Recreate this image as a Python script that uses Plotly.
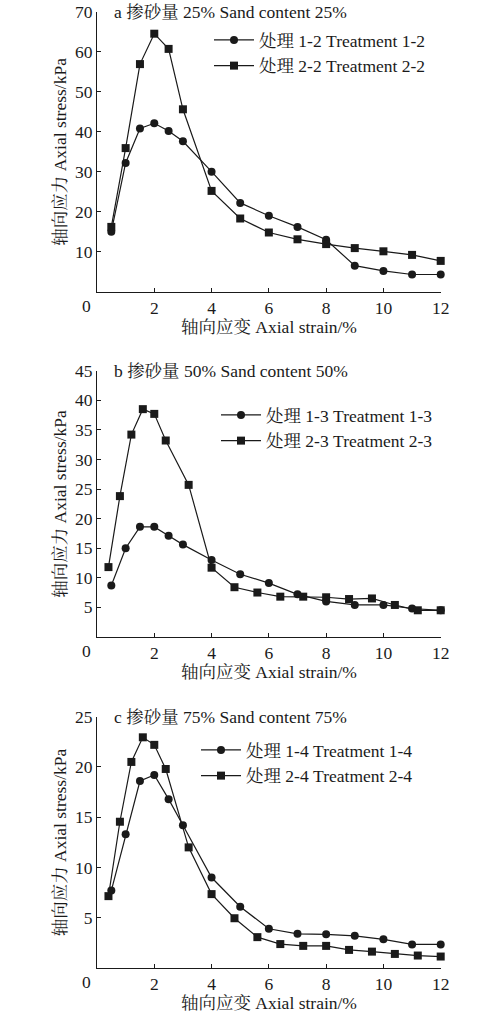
import plotly.graph_objects as go

# a: sand content 25%
strain_a = [0.5, 1, 1.5, 2, 2.5, 3, 4, 5, 6, 7, 8, 9, 10, 11, 12]
stress_a1 = [15.0, 32.2, 40.8, 42.1, 40.2, 37.6, 30.0, 22.2, 19.0, 16.2, 13.0, 6.5, 5.2, 4.3, 4.3]
stress_a2 = [16.2, 35.9, 56.9, 64.5, 60.7, 45.6, 25.2, 18.3, 14.8, 13.1, 11.9, 10.9, 10.1, 9.2, 7.7]

# b: sand content 50%
strain_b1 = [0.5, 1, 1.5, 2, 2.5, 3, 4, 5, 6, 7, 8, 9, 10, 11, 12]
stress_b1 = [8.7, 15.0, 18.6, 18.6, 17.1, 15.6, 13.0, 10.6, 9.1, 7.2, 6.0, 5.4, 5.4, 4.8, 4.5]
strain_b2 = [0.4, 0.8, 1.2, 1.6, 2.0, 2.4, 3.2, 4.0, 4.8, 5.6, 6.4, 7.2, 8.0, 8.8, 9.6, 10.4, 11.2, 12.0]
stress_b2 = [11.8, 23.8, 34.2, 38.5, 37.7, 33.2, 25.7, 11.7, 8.4, 7.5, 6.8, 6.8, 6.7, 6.4, 6.5, 5.4, 4.5, 4.5]

# c: sand content 75%
strain_c1 = [0.5, 1, 1.5, 2, 2.5, 3, 4, 5, 6, 7, 8, 9, 10, 11, 12]
stress_c1 = [7.7, 13.3, 18.6, 19.2, 16.8, 14.2, 9.0, 6.1, 3.9, 3.4, 3.35, 3.2, 2.85, 2.35, 2.35]
strain_c2 = [0.4, 0.8, 1.2, 1.6, 2.0, 2.4, 3.2, 4.0, 4.8, 5.6, 6.4, 7.2, 8.0, 8.8, 9.6, 10.4, 11.2, 12.0]
stress_c2 = [7.15, 14.55, 20.5, 22.95, 22.2, 19.8, 12.0, 7.35, 4.95, 3.07, 2.38, 2.2, 2.2, 1.8, 1.63, 1.4, 1.24, 1.14]

panel_titles = ["a 掺砂量 25% Sand content 25%",
                "b 掺砂量 50% Sand content 50%",
                "c 掺砂量 75% Sand content 75%"]
y_ranges = [70, 45, 25]
y_ticks = [[10, 20, 30, 40, 50, 60, 70],
           [5, 10, 15, 20, 25, 30, 35, 40, 45],
           [5, 10, 15, 20, 25]]
x_ticks = [2, 4, 6, 8, 10, 12]

FONT = "Liberation Serif, 'Noto Serif CJK SC', 'Noto Sans CJK SC', serif"
INK = "#1a1a1a"
FS = 17.5

# pixel layout of the 500x1014 page
W, H = 500, 1014
x_left, x_right = 97, 440.7
panel_px = [(11.7, 291.7), (370.7, 636.9), (716.7, 968.0)]  # top, bottom
legend_px = [(209, 22), (216, 397), (196, 732)]  # left, top
xtitle_gap = [35, 35, 35]  # axis line -> x title centre

series = [
    (strain_a, stress_a1, "处理 1-2 Treatment 1-2", strain_a, stress_a2, "处理 2-2 Treatment 2-2"),
    (strain_b1, stress_b1, "处理 1-3 Treatment 1-3", strain_b2, stress_b2, "处理 2-3 Treatment 2-3"),
    (strain_c1, stress_c1, "处理 1-4 Treatment 1-4", strain_c2, stress_c2, "处理 2-4 Treatment 2-4"),
]

fig = go.Figure()

for i, (x1, y1, n1, x2, y2, n2) in enumerate(series):
    k = "" if i == 0 else str(i + 1)
    leg = "legend" + k
    fig.add_trace(go.Scatter(
        x=x1, y=y1, name=n1, mode="lines+markers",
        line=dict(color=INK, width=1.2),
        marker=dict(symbol="circle", size=8, color=INK),
        cliponaxis=False, xaxis="x" + k, yaxis="y" + k, legend=leg
    ))
    fig.add_trace(go.Scatter(
        x=x2, y=y2, name=n2, mode="lines+markers",
        line=dict(color=INK, width=1.2),
        marker=dict(symbol="square", size=8, color=INK),
        cliponaxis=False, xaxis="x" + k, yaxis="y" + k, legend=leg
    ))

layout = dict(
    width=W, height=H,
    margin=dict(l=0, r=0, t=0, b=0, autoexpand=False),
    paper_bgcolor="white", plot_bgcolor="white",
    font=dict(family=FONT, size=FS, color=INK),
    showlegend=True,
)

for i in range(3):
    k = "" if i == 0 else str(i + 1)
    top, bottom = panel_px[i]
    axis_common = dict(
        showline=True, linecolor=INK, linewidth=1.2,
        ticks="inside", ticklen=4, tickcolor=INK, tickwidth=1,
        showgrid=False, zeroline=False, automargin=False,
        tickfont=dict(family=FONT, size=FS, color=INK),
    )
    layout["xaxis" + k] = dict(
        axis_common,
        domain=[x_left / W, x_right / W], range=[0, 12],
        tickvals=x_ticks, anchor="y" + k,
    )
    layout["yaxis" + k] = dict(
        axis_common,
        domain=[1 - bottom / H, 1 - top / H], range=[0, y_ranges[i]],
        tickvals=y_ticks[i], anchor="x" + k,
    )
    lx, ly = legend_px[i]
    layout["legend" + k] = dict(
        x=lx / W, y=1 - ly / H, xanchor="left", yanchor="top",
        bgcolor="rgba(255,255,255,0)", borderwidth=0,
        font=dict(family=FONT, size=FS, color=INK),
        tracegroupgap=0, itemwidth=40,
    )

fig.update_layout(**layout)

for i in range(3):
    k = "" if i == 0 else str(i + 1)
    top, bottom = panel_px[i]
    # panel title in the top-left corner of the plot
    fig.add_annotation(
        x=0.044, y=1, xref="x" + k + " domain", yref="y" + k + " domain",
        text=panel_titles[i], showarrow=False,
        xanchor="left", yanchor="middle",
        font=dict(family=FONT, size=FS, color=INK),
    )
    # shared origin label
    fig.add_annotation(
        x=0, y=0, xref="x" + k, yref="y" + k,
        text="0", showarrow=False,
        xanchor="right", yanchor="top", xshift=-4, yshift=-2,
        font=dict(family=FONT, size=FS, color=INK),
    )
    # axis titles
    fig.add_annotation(
        x=0.5, y=1 - (bottom + xtitle_gap[i]) / H, xref="x" + k + " domain", yref="paper",
        text="轴向应变 Axial strain/%", showarrow=False,
        xanchor="center", yanchor="middle",
        font=dict(family=FONT, size=FS, color=INK),
    )
    fig.add_annotation(
        x=60 / W, y=1 - (top + bottom) / 2 / H, xref="paper", yref="paper",
        text="轴向应力 Axial stress/kPa", showarrow=False, textangle=-90,
        xanchor="center", yanchor="middle",
        font=dict(family=FONT, size=FS, color=INK),
    )

# page body has a default 8px margin; drop it so the figure fills the window
fig.write_html("out.html", config={"displayModeBar": False},
               post_script="document.body.style.margin = '0';")
